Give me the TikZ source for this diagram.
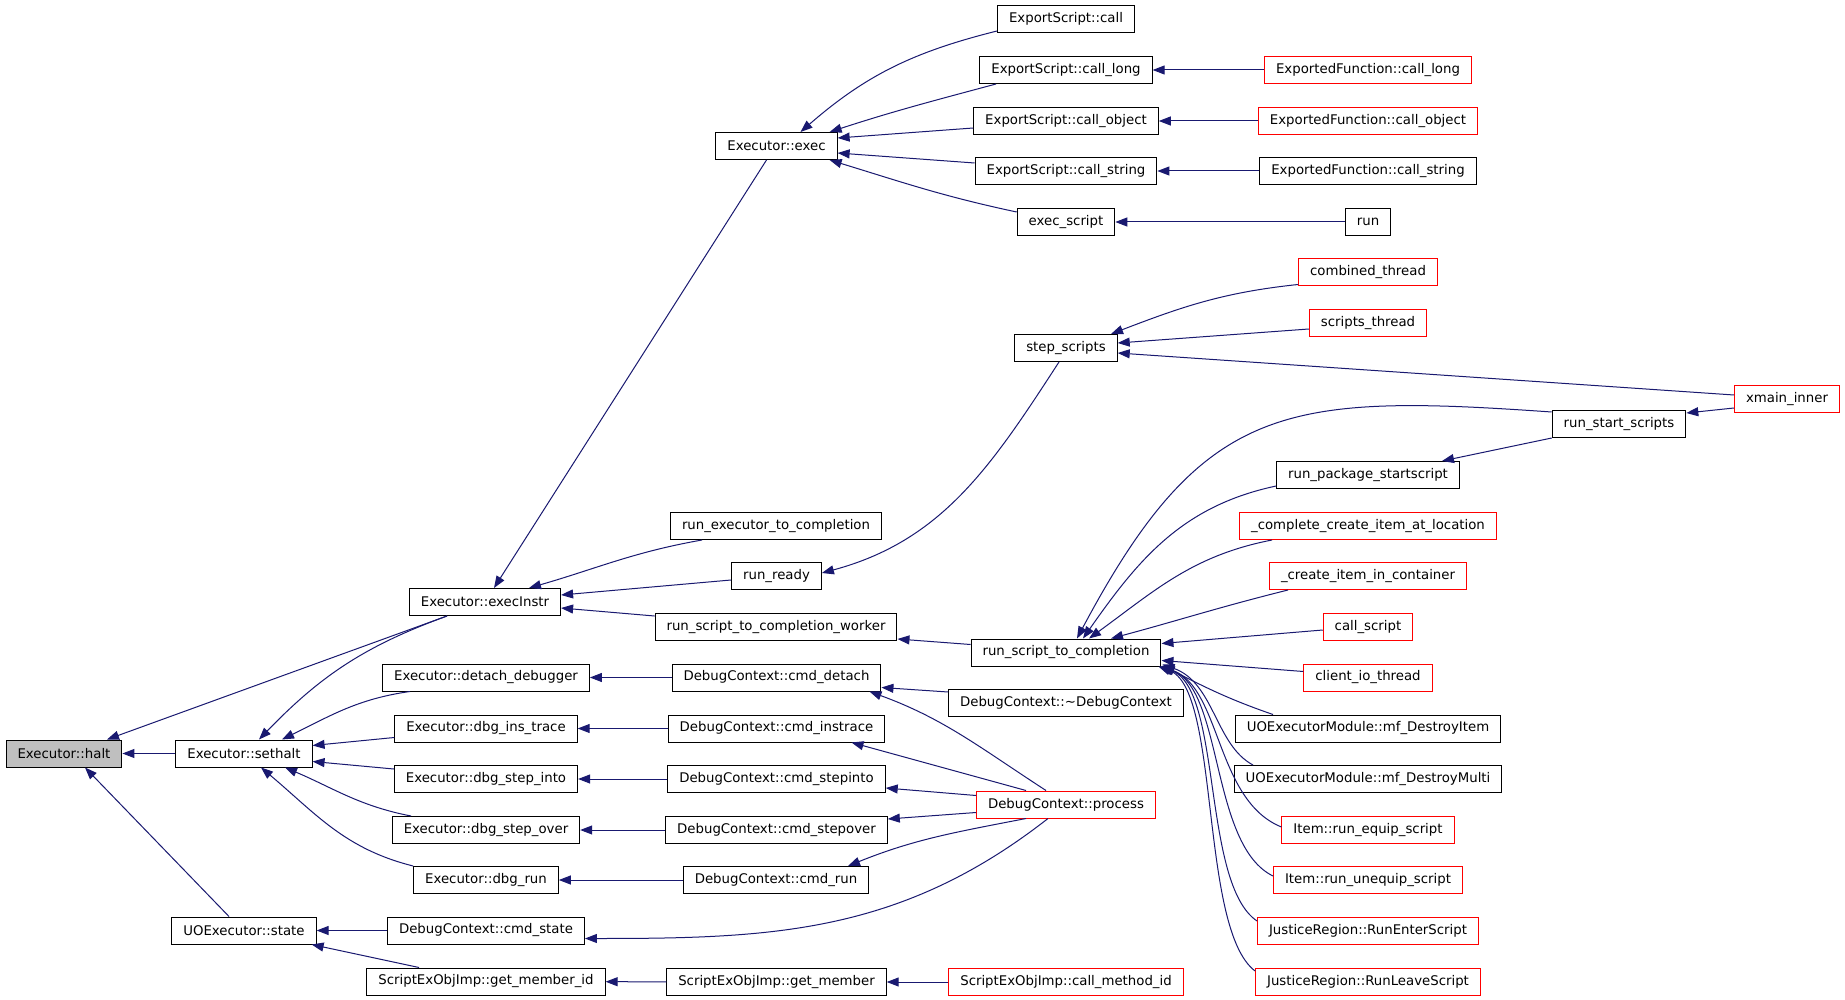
\documentclass[tikz,border=0pt]{standalone}
\usepackage{fontspec}
\usepackage{tikz}
\usetikzlibrary{arrows.meta}
\newfontfamily\dotfont{DejaVu Sans}
\definecolor{edgeblue}{RGB}{25,25,112}
\tikzset{
    func/.style={
        draw,
        rectangle,
        line width=1pt,
        minimum height=27pt,
        inner xsep=11.5pt,
        inner ysep=0pt,
        font=\dotfont\fontsize{13.3}{15}\selectfont
    },
    redfunc/.style={func, draw=red},
    focus/.style={func, fill=black!25},
    callarrow/.style={
        draw=edgeblue,
        line width=1pt,
        -{Triangle[length=12pt, width=9pt]}
    }
}

\begin{document}
\begin{tikzpicture}[x=1pt, y=-1pt]
    \fill[white] (0,0) rectangle (1845,1000);
    \useasboundingbox (0,0) rectangle (1845,1000);

    % Functions - column 1 and 2
    \node[focus] (halt) at (64,753.5) {Executor::halt};
    \node[func] (sethalt) at (244,753.5) {Executor::sethalt};
    \node[func] (uoState) at (244,930.5) {UOExecutor::state};

    % Functions - column 3
    \node[func] (execInstr) at (485,602) {Executor::execInstr};
    \node[func] (detachDbg) at (486,677.5) {Executor::detach\_debugger};
    \node[func] (insTrace) at (486,728.5) {Executor::dbg\_ins\_trace};
    \node[func] (stepInto) at (486,779) {Executor::dbg\_step\_into};
    \node[func] (stepOver) at (486,830) {Executor::dbg\_step\_over};
    \node[func] (dbgRun) at (486,880) {Executor::dbg\_run};
    \node[func] (cmdState) at (486,930.5) {DebugContext::cmd\_state};
    \node[func] (getMemberId) at (486,981.5) {ScriptExObjImp::get\_member\_id};

    % Functions - column 4
    \node[func] (exec) at (776.5,146) {Executor::exec};
    \node[func] (runExecCompl) at (776,526) {run\_executor\_to\_completion};
    \node[func] (runReady) at (776.5,576) {run\_ready};
    \node[func] (worker) at (776,627) {run\_script\_to\_completion\_worker};
    \node[func] (cmdDetach) at (776.5,677.5) {DebugContext::cmd\_detach};
    \node[func] (cmdInstrace) at (776.5,728.5) {DebugContext::cmd\_instrace};
    \node[func] (cmdStepinto) at (776.5,779) {DebugContext::cmd\_stepinto};
    \node[func] (cmdStepover) at (776.5,830) {DebugContext::cmd\_stepover};
    \node[func] (cmdRun) at (776,880) {DebugContext::cmd\_run};
    \node[func] (getMember) at (776.5,982) {ScriptExObjImp::get\_member};

    % Functions - column 5
    \node[func] (esCall) at (1066,19) {ExportScript::call};
    \node[func] (esCallLong) at (1066,70) {ExportScript::call\_long};
    \node[func] (esCallObject) at (1066,121) {ExportScript::call\_object};
    \node[func] (esCallString) at (1066,171) {ExportScript::call\_string};
    \node[func] (execScript) at (1066,222) {exec\_script};
    \node[func] (stepScripts) at (1066,348) {step\_scripts};
    \node[func] (rstc) at (1066,652.5) {run\_script\_to\_completion};
    \node[func] (dtor) at (1066,703) {DebugContext::{\char"007E}DebugContext};
    \node[redfunc] (process) at (1066,804.5) {DebugContext::process};
    \node[redfunc] (callMethodId) at (1066,982) {ScriptExObjImp::call\_method\_id};

    % Functions - column 6
    \node[redfunc] (efCallLong) at (1368,70) {ExportedFunction::call\_long};
    \node[redfunc] (efCallObject) at (1368,121) {ExportedFunction::call\_object};
    \node[func] (efCallString) at (1368,171) {ExportedFunction::call\_string};
    \node[func] (run) at (1368,222) {run};
    \node[redfunc] (combinedThread) at (1368,272.5) {combined\_thread};
    \node[redfunc] (scriptsThread) at (1368,323) {scripts\_thread};
    \node[func] (runPkgStart) at (1368,475) {run\_package\_startscript};
    \node[redfunc] (completeCreate) at (1368,526) {\_complete\_create\_item\_at\_location};
    \node[redfunc] (createItem) at (1368,576) {\_create\_item\_in\_container};
    \node[redfunc] (callScript) at (1368,627) {call\_script};
    \node[redfunc] (clientIo) at (1368,677.5) {client\_io\_thread};
    \node[func] (destroyItem) at (1368,728.5) {UOExecutorModule::mf\_DestroyItem};
    \node[func] (destroyMulti) at (1368,779) {UOExecutorModule::mf\_DestroyMulti};
    \node[redfunc] (equip) at (1368,830) {Item::run\_equip\_script};
    \node[redfunc] (unequip) at (1368,880) {Item::run\_unequip\_script};
    \node[redfunc] (enterScript) at (1368,931) {JusticeRegion::RunEnterScript};
    \node[redfunc] (leaveScript) at (1368,982) {JusticeRegion::RunLeaveScript};

    % Functions - column 7 and 8
    \node[func] (runStartScripts) at (1619,424) {run\_start\_scripts};
    \node[redfunc] (xmainInner) at (1787,399) {xmain\_inner};

    % Calls into halt and sethalt
    \draw[callarrow] (sethalt) -- (halt);
    \draw[callarrow] ([xshift=-38pt]execInstr.south) -- ([xshift=43pt]halt.north);
    \draw[callarrow] ([xshift=-15pt]uoState.north) -- ([xshift=21pt]halt.south);
    \draw[callarrow] ([xshift=-38pt]execInstr.south) to[out=200, in=46] ([xshift=15pt]sethalt.north);
    \draw[callarrow] ([xshift=-76pt]detachDbg.south) to[out=188, in=26] ([xshift=38pt]sethalt.north);
    \draw[callarrow] ([yshift=-9pt]insTrace.west) -- ([yshift=8pt]sethalt.east);
    \draw[callarrow] ([yshift=10pt]stepInto.west) -- ([yshift=-8pt]sethalt.east);
    \draw[callarrow] ([xshift=-75pt]stepOver.north) to[out=169, in=-23] ([xshift=41pt]sethalt.south);
    \draw[callarrow] (dbgRun.north west) to[out=166, in=-40] ([xshift=17pt]sethalt.south);
    \draw[callarrow] (cmdState) -- (uoState);
    \draw[callarrow] ([xshift=-67pt]getMemberId.north) -- ([xshift=-5pt]uoState.south east);

    % Calls into execInstr and the debugger
    \draw[callarrow] ([xshift=-10pt]exec.south) -- ([xshift=9pt]execInstr.north);
    \draw[callarrow] ([xshift=-74pt]runExecCompl.south) to[out=190, in=16] ([xshift=44pt]execInstr.north);
    \draw[callarrow] ([yshift=-4pt]runReady.west) -- ([yshift=7pt]execInstr.east);
    \draw[callarrow] ([yshift=11pt]worker.west) -- ([yshift=-6pt]execInstr.east);
    \draw[callarrow] (cmdDetach) -- (detachDbg);
    \draw[callarrow] (cmdInstrace) -- (insTrace);
    \draw[callarrow] (cmdStepinto) -- (stepInto);
    \draw[callarrow] (cmdStepover) -- (stepOver);
    \draw[callarrow] (cmdRun) -- (dbgRun);
    \draw[callarrow] (getMember) -- (getMemberId);
    \draw[callarrow] ([xshift=-7pt]stepScripts.south) to[out=237, in=15] ([yshift=3pt]runReady.east);
    \draw[callarrow] ([yshift=8pt]rstc.west) -- ([yshift=-12pt]worker.east);
    \draw[callarrow] ([yshift=11pt]dtor.west) -- ([yshift=-10pt]cmdDetach.east);
    \draw[callarrow] ([xshift=-20pt]process.north) to[out=147, in=-20] ([xshift=-12pt]cmdDetach.south east);
    \draw[callarrow] ([xshift=-40pt]process.north) -- ([xshift=75pt]cmdInstrace.south);
    \draw[callarrow] ([yshift=9pt]process.west) -- ([yshift=-9pt]cmdStepinto.east);
    \draw[callarrow] ([yshift=-8pt]process.west) -- ([yshift=11pt]cmdStepover.east);
    \draw[callarrow] ([xshift=-40pt]process.south) to[out=191, in=22] ([xshift=72pt]cmdRun.north);
    \draw[callarrow] ([xshift=-18pt]process.south) to[out=218, in=0] ([yshift=-8pt]cmdState.east);
    \draw[callarrow] (callMethodId) -- (getMember);

    % Calls into exec
    \draw[callarrow] ([yshift=2pt]esCall.south west) to[out=194, in=41] ([xshift=24pt]exec.north);
    \draw[callarrow] ([xshift=-70pt]esCallLong.south) to[out=195, in=18] ([xshift=-8pt]exec.north east);
    \draw[callarrow] ([yshift=-7pt]esCallObject.west) -- ([yshift=8pt]exec.east);
    \draw[callarrow] ([yshift=8pt]esCallString.west) -- ([yshift=-7pt]exec.east);
    \draw[callarrow] ([yshift=-4pt]execScript.north west) to[out=168, in=-17] ([xshift=-8pt]exec.south east);
    \draw[callarrow] (efCallLong) -- (esCallLong);
    \draw[callarrow] (efCallObject) -- (esCallObject);
    \draw[callarrow] (efCallString) -- (esCallString);
    \draw[callarrow] (run) -- (execScript);

    % Calls into step_scripts
    \draw[callarrow] ([yshift=2pt]combinedThread.south west) to[out=186, in=21] ([xshift=45pt]stepScripts.north);
    \draw[callarrow] ([yshift=-6pt]scriptsThread.west) -- ([yshift=5pt]stepScripts.east);
    \draw[callarrow] ([yshift=4pt]xmainInner.west) -- ([yshift=-5pt]stepScripts.east);
    \draw[callarrow] ([yshift=-9pt]xmainInner.west) -- ([yshift=11pt]runStartScripts.east);
    \draw[callarrow] (runStartScripts.south west) -- ([xshift=74pt]runPkgStart.north);

    % Calls into run_script_to_completion
    \draw[callarrow] ([yshift=-2pt]runStartScripts.north west) to[out=176, in=62, looseness=1.3] ([xshift=11pt]rstc.north);
    \draw[callarrow] ([yshift=-11pt]runPkgStart.west) to[out=192, in=55] ([xshift=17pt]rstc.north);
    \draw[callarrow] ([xshift=-96pt]completeCreate.south) to[out=191, in=36] ([xshift=23pt]rstc.north);
    \draw[callarrow] ([xshift=-80pt]createItem.south) to[out=194, in=15] ([xshift=45pt]rstc.north);
    \draw[callarrow] ([yshift=-3pt]callScript.west) -- ([yshift=9pt]rstc.east);
    \draw[callarrow] ([yshift=6pt]clientIo.west) -- ([yshift=-8pt]rstc.east);
    \draw[callarrow] ([xshift=-95pt]destroyItem.north) to[out=161, in=-27] ([xshift=1pt,yshift=1pt]rstc.south east);
    \draw[callarrow] ([xshift=-115pt]destroyMulti.north) to[out=152, in=-19, out distance=43pt, in distance=55pt] ([xshift=1pt,yshift=2pt]rstc.south east);
    \draw[callarrow] ([yshift=3pt]equip.west) to[out=158, in=-21, out distance=71pt, in distance=63pt] ([xshift=1pt]rstc.south east);
    \draw[callarrow] ([yshift=4pt]unequip.west) to[out=154, in=-20, out distance=70pt, in distance=66pt] (rstc.south east);
    \draw[callarrow] ([yshift=-4pt]enterScript.north west) to[out=146, in=-20, out distance=67pt, in distance=66pt] ([xshift=-1pt]rstc.south east);
    \draw[callarrow] ([yshift=-3pt]leaveScript.north west) to[out=143, in=-20, out distance=70pt, in distance=66pt] ([xshift=-3pt]rstc.south east);
\end{tikzpicture}
\end{document}
